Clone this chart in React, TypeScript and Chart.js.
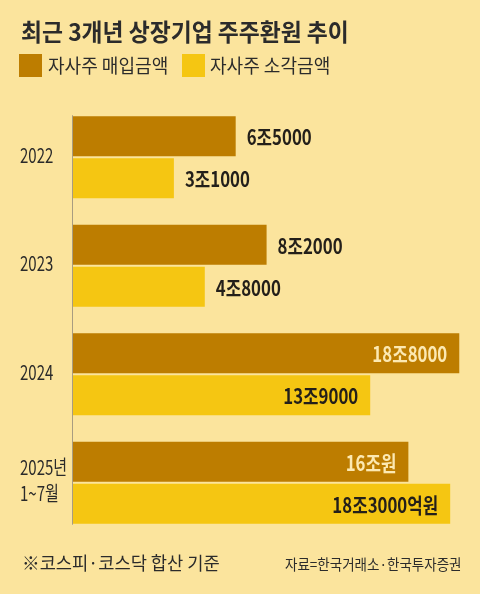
import React, { useEffect, useRef } from "react";
import { Chart, registerables } from "chart.js";

Chart.register(...registerables);

const categories: (string | string[])[] = ["2022", "2023", "2024", ["2025년", "1~7월"]];
const buyValues = [6.5, 8.2, 18.8, 16.0];
const burnValues = [3.1, 4.8, 13.9, 18.3];
const buyLabels = ["6조5000", "8조2000", "18조8000", "16조원"];
const burnLabels = ["3조1000", "4조8000", "13조9000", "18조3000억원"];
const seriesNames = ["자사주 매입금액", "자사주 소각금액"];
const X_MIN = -2.45;
const X_MAX = 19.5;
const INSIDE_THRESHOLD = 10;

const BG = "#FBE49D";
const BUY = "#BD7D00";
const BURN = "#F5C612";
const DARK = "#231F1A";
const CREAM = "#FCE9B2";
const KR = '"Noto Sans CJK KR", "Noto Sans", sans-serif';

const labelPlugin = {
  id: "valueLabels",
  afterDatasetsDraw(chart: any) {
    const ctx = chart.ctx;
    const labelSets = [buyLabels, burnLabels];
    const valueSets = [buyValues, burnValues];
    ctx.save();
    ctx.font = `bold 21px ${KR}`;
    ctx.textBaseline = "middle";
    chart.data.datasets.forEach((_: any, di: number) => {
      const meta = chart.getDatasetMeta(di);
      meta.data.forEach((bar: any, i: number) => {
        const text = labelSets[di][i];
        const inside = valueSets[di][i] >= INSIDE_THRESHOLD;
        ctx.save();
        if (inside) {
          ctx.fillStyle = di === 0 ? CREAM : DARK;
          ctx.textAlign = "right";
          ctx.translate(bar.x - 12, bar.y + 1);
        } else {
          ctx.fillStyle = DARK;
          ctx.textAlign = "left";
          ctx.translate(bar.x + 11, bar.y + 1);
        }
        ctx.scale(0.8, 1);
        ctx.fillText(text, 0, 0);
        ctx.restore();
      });
    });

    // category labels on the y scale (condensed)
    const yScale = chart.scales.y;
    ctx.font = `20px ${KR}`;
    ctx.fillStyle = "#2A2A2A";
    ctx.textAlign = "left";
    ctx.textBaseline = "middle";
    const lineH = 26;
    chart.data.labels.forEach((lab: any, i: number) => {
      const lines = Array.isArray(lab) ? lab : [lab];
      const cy = yScale.getPixelForTick(i) - 2;
      lines.forEach((ln: string, k: number) => {
        const y = cy + (k - (lines.length - 1) / 2) * lineH;
        ctx.save();
        ctx.translate(yScale.left, y);
        ctx.scale(0.75, 1);
        ctx.fillText(ln, 0, 0);
        ctx.restore();
      });
    });

    // vertical axis line from first bar top to last bar bottom
    const first = chart.getDatasetMeta(0).data[0];
    const lastMeta = chart.getDatasetMeta(chart.data.datasets.length - 1);
    const last = lastMeta.data[lastMeta.data.length - 1];
    const x = Math.round(chart.chartArea.left) - 0.5;
    ctx.strokeStyle = "#A89C80";
    ctx.lineWidth = 1;
    ctx.beginPath();
    ctx.moveTo(x, first.y - first.height / 2 - 1);
    ctx.lineTo(x, last.y + last.height / 2 + 1);
    ctx.stroke();
    ctx.restore();
  },
};

function ChartCanvas() {
  const ref = useRef<HTMLCanvasElement | null>(null);
  useEffect(() => {
    if (!ref.current) return;
    const chart = new Chart(ref.current, {
      type: "bar",
      data: {
        labels: categories,
        datasets: [
          {
            label: seriesNames[0],
            data: buyValues,
            backgroundColor: BUY,
            base: X_MIN,
            categoryPercentage: 0.774,
            barPercentage: 0.952,
          },
          {
            label: seriesNames[1],
            data: burnValues,
            backgroundColor: BURN,
            base: X_MIN,
            categoryPercentage: 0.774,
            barPercentage: 0.952,
          },
        ],
      },
      options: {
        indexAxis: "y",
        animation: false,
        responsive: false,
        maintainAspectRatio: false,
        layout: { padding: { left: 20, right: 8, top: 103, bottom: 57 } },
        plugins: {
          legend: { display: false },
          title: { display: false },
          tooltip: { enabled: false },
        },
        scales: {
          x: {
            type: "linear",
            min: X_MIN,
            max: X_MAX,
            display: false,
            grid: { display: false },
          },
          y: {
            type: "category",
            grid: { display: false, drawTicks: false },
            border: { display: false },
            afterFit: (scale: any) => {
              scale.width = 53;
            },
            ticks: { display: false },
          },
        },
      },
      plugins: [labelPlugin],
    } as any);
    return () => chart.destroy();
  }, []);
  return <canvas ref={ref} width={480} height={594} style={{ position: "absolute", left: 0, top: 0, width: 480, height: 594 }} />;
}

export default function App() {
  useEffect(() => {
    document.body.style.margin = "0";
  }, []);
  const textBase: React.CSSProperties = {
    position: "absolute",
    whiteSpace: "nowrap",
    fontFamily: KR,
    color: "#2B2B2B",
    transformOrigin: "left center",
  };
  return (
    <div style={{ position: "relative", width: 480, height: 594, background: BG, overflow: "hidden" }}>
      <ChartCanvas />
      <div style={{ ...textBase, left: 21, top: 16, fontSize: 24, lineHeight: "30px", fontWeight: 700, transform: "scaleX(0.95)" }}>
        최근 3개년 상장기업 주주환원 추이
      </div>
      <div style={{ position: "absolute", left: 19, top: 54, width: 23, height: 23, background: BUY }} />
      <div style={{ ...textBase, left: 48, top: 53, fontSize: 19, lineHeight: "24px", transform: "scaleX(0.95)" }}>
        {seriesNames[0]}
      </div>
      <div style={{ position: "absolute", left: 182, top: 54, width: 23, height: 23, background: BURN }} />
      <div style={{ ...textBase, left: 210, top: 53, fontSize: 19, lineHeight: "24px", transform: "scaleX(0.95)" }}>
        {seriesNames[1]}
      </div>
      <div style={{ ...textBase, left: 22, top: 550, fontSize: 18, lineHeight: "24px", transform: "scaleX(0.98)" }}>
        ※코스피·코스닥 합산 기준
      </div>
      <div style={{ ...textBase, left: 285, top: 554, fontSize: 15, lineHeight: "20px", transform: "scaleX(0.9)" }}>
        자료=한국거래소·한국투자증권
      </div>
    </div>
  );
}
